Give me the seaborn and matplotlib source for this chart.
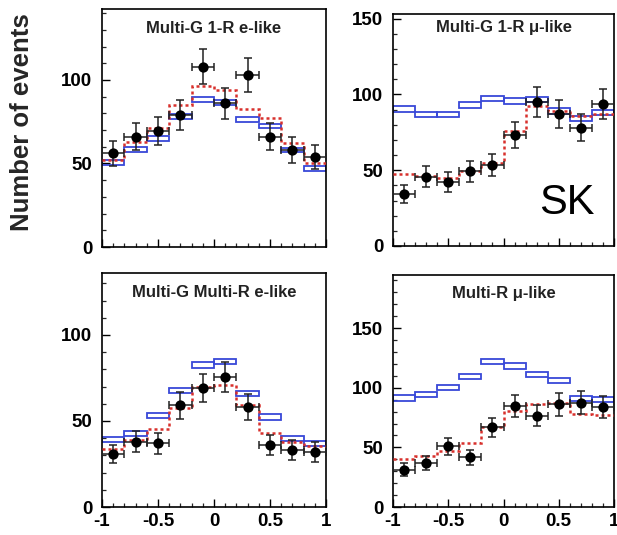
import numpy as np
import matplotlib
matplotlib.use("Agg")
import matplotlib.pyplot as plt
import seaborn as sns
from matplotlib.ticker import MultipleLocator

# ---------------- data ----------------
edges = [-1.0, -0.8, -0.6, -0.4, -0.2, 0.0, 0.2, 0.4, 0.6, 0.8, 1.0]
centers = [-0.9, -0.7, -0.5, -0.3, -0.1, 0.1, 0.3, 0.5, 0.7, 0.9]

titles = ["Multi-G 1-R e-like", "Multi-G 1-R \u03bc-like",
          "Multi-G Multi-R e-like", "Multi-R \u03bc-like"]

p1_data = [56, 66, 69.5, 79, 108, 86, 103, 66, 58, 54]
p1_err = [7.5, 8.1, 8.3, 8.9, 10.4, 9.3, 10.1, 8.1, 7.6, 7.3]
p1_mc = [50.6, 58.4, 65, 78, 88.4, 86.4, 76.4, 72.4, 58, 46.8]
p1_osc = [52, 63, 71, 85, 96.4, 93.8, 82.4, 77, 62.4, 50]

p2_data = [34.4, 45.8, 42, 49.3, 53.5, 73.5, 95, 87, 78, 93.6]
p2_err = [5.9, 6.8, 6.5, 7.0, 7.3, 8.6, 9.7, 9.3, 8.8, 9.7]
p2_mc = [90.4, 86.8, 86.8, 93, 97.4, 95.6, 96.5, 89, 84, 88]
p2_osc = [47.5, 46, 45, 49.5, 55, 76, 92.5, 89, 86, 87]

p3_data = [30.8, 37.9, 37.1, 59, 69.2, 75.6, 58, 36, 33, 32]
p3_err = [5.5, 6.2, 6.1, 7.7, 8.3, 8.7, 7.6, 6.0, 5.7, 5.7]
p3_mc = [39.2, 42.9, 53, 67.5, 82.5, 84.4, 66, 52.3, 40, 37]
p3_osc = [33.7, 38.8, 45.2, 57.3, 70, 71, 59, 43, 38, 35.6]

p4_data = [31.4, 37, 50.8, 41.7, 66.7, 84.7, 76.4, 86, 87.5, 84]
p4_err = [5.6, 6.1, 7.1, 6.5, 8.2, 9.2, 8.7, 9.3, 9.4, 9.2]
p4_mc = [91.4, 94.4, 100, 109.4, 122, 118.3, 110.8, 106, 91, 90]
p4_osc = [40, 43, 47, 53.6, 66.7, 80.5, 86, 87, 77.8, 77]

mc_halfband = [1.4, 1.8, 1.5, 2.2]
ylims = [142.5, 153, 136, 194.5]
yticks = [[0, 50, 100], [0, 50, 100, 150], [0, 50, 100], [0, 50, 100, 150]]
xticks = [-1, -0.5, 0, 0.5, 1]
xticklabels = ["-1", "-0.5", "0", "0.5", "1"]

# ---------------- style ----------------
sns.set_style("ticks")
plt.rcParams["font.family"] = ["Liberation Sans", "DejaVu Sans"]
plt.rcParams["font.weight"] = "bold"

W, H = 617, 535
fig = plt.figure(figsize=(W / 100, H / 100), dpi=100)

# [left, top, width, height] in pixels (top-left origin)
boxes_px = [(102, 9, 224, 238), (393, 14, 221, 232),
            (102, 273, 224, 234), (393, 275, 221, 232)]
title_y = [0.92, 0.94, 0.915, 0.922]

panels = [(p1_data, p1_err, p1_mc, p1_osc),
          (p2_data, p2_err, p2_mc, p2_osc),
          (p3_data, p3_err, p3_mc, p3_osc),
          (p4_data, p4_err, p4_mc, p4_osc)]

blue = "#3848d8"
red = "#d8302c"

for i, ((d, e, mc, osc), (l, t, w, h)) in enumerate(zip(panels, boxes_px)):
    ax = fig.add_axes([l / W, 1 - (t + h) / H, w / W, h / H])
    hb = mc_halfband[i]
    # MC (no oscillation) boxes
    ax.bar(centers, [2 * hb] * len(mc), bottom=[m - hb for m in mc], width=0.2,
           fill=False, edgecolor=blue, linewidth=1.3, zorder=2)
    # best-fit oscillation, dotted step line
    ax.stairs(osc, edges, baseline=None, color=red, linestyle=(0, (1.2, 1.2)),
              linewidth=1.8, zorder=3)
    # data points
    ax.errorbar(centers, d, yerr=e, xerr=0.1, fmt="none", ecolor="#222222",
                elinewidth=1.1, capsize=3, capthick=1.1, zorder=4)
    sns.scatterplot(x=centers, y=d, ax=ax, color="black", s=55, marker="o",
                    edgecolor="black", linewidth=0, zorder=5, legend=False)

    ax.set_xlim(-1, 1)
    ax.set_ylim(0, ylims[i])
    ax.set_yticks(yticks[i])
    ax.yaxis.set_minor_locator(MultipleLocator(10))
    ax.set_xticks(xticks)
    ax.xaxis.set_minor_locator(MultipleLocator(0.1))
    ax.tick_params(which="major", direction="in", length=6, width=1.0,
                   labelsize=13.5, pad=7, colors="black")
    ax.tick_params(which="minor", direction="in", length=3, width=0.9)
    if i < 2:
        ax.set_xticklabels([])
    else:
        ax.set_xticklabels(xticklabels)
        ax.tick_params(axis="x", pad=4)
    for lab in ax.get_xticklabels() + ax.get_yticklabels():
        lab.set_fontweight("bold")
    for s in ax.spines.values():
        s.set_linewidth(1.2)
        s.set_color("black")
    ax.set_xlabel("")
    ax.set_ylabel("")
    ax.text(0.5, title_y[i], titles[i], transform=ax.transAxes, ha="center",
            va="center", fontsize=12, fontweight="bold", color="#222222")

fig.text(567 / W, 1 - 203 / H, "SK", ha="center", va="center",
         fontsize=30, fontweight="normal", color="black")

fig.text(22 / W, 1 - 122 / H, "Number of events", rotation=90, ha="center",
         va="center", fontsize=18.5, fontweight="bold")

fig.savefig("out.png", dpi=100)
